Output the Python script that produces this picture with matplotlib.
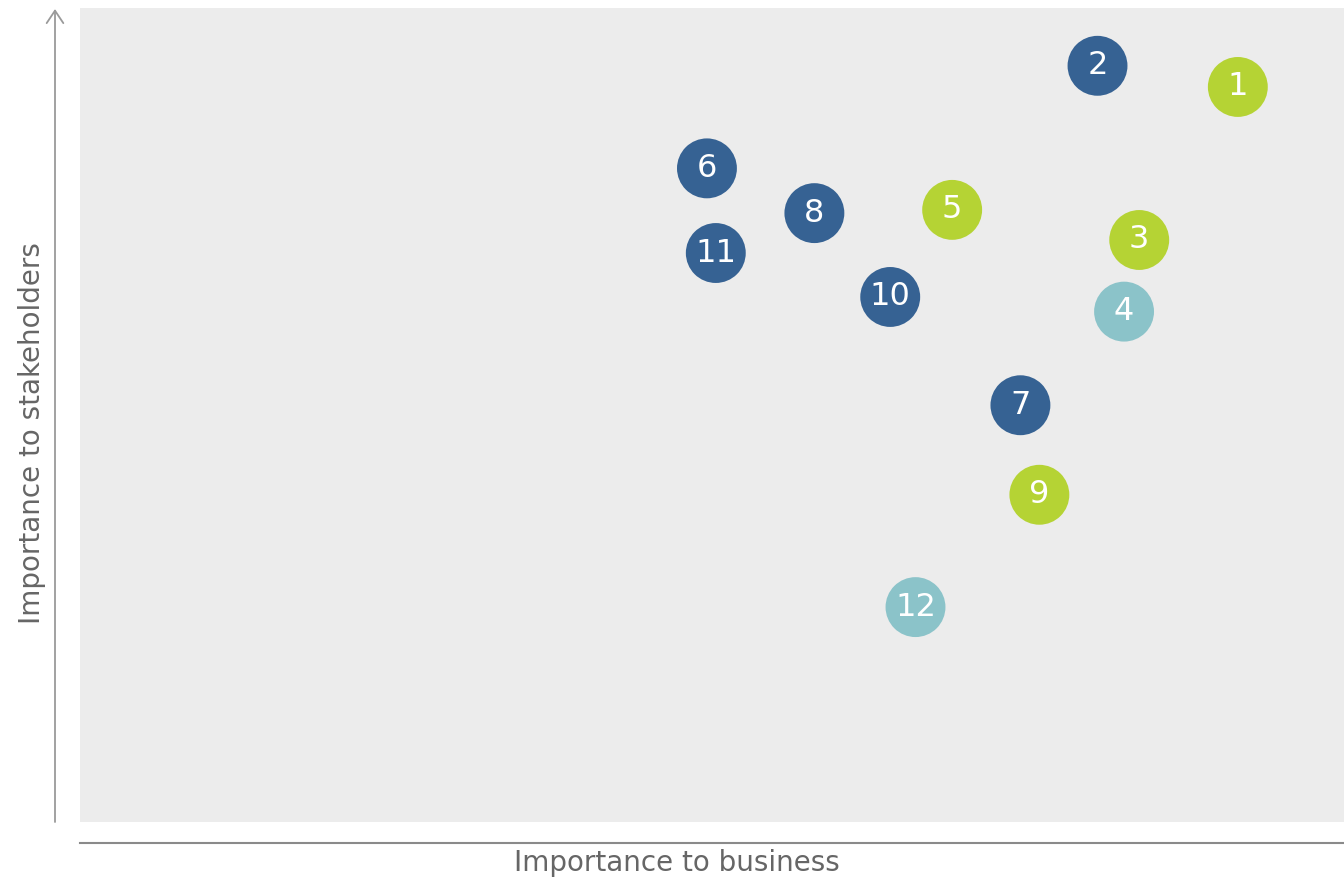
import matplotlib
matplotlib.use("Agg")
import matplotlib.pyplot as plt

labels = ["1", "2", "3", "4", "5", "6", "7", "8", "9", "10", "11", "12"]
business = [9.16, 8.05, 8.38, 8.26, 6.90, 4.96, 7.44, 5.81, 7.59, 6.41, 5.03, 6.61]
stakeholders = [9.03, 9.29, 7.15, 6.27, 7.52, 8.03, 5.12, 7.48, 4.02, 6.45, 6.99, 2.64]
groups = ["green", "blue", "green", "teal", "green", "blue", "blue", "blue", "green", "blue", "blue", "teal"]
palette = {"green": "#b5d334", "blue": "#366293", "teal": "#8bc3c9"}

W, H = 1344, 880
fig = plt.figure(figsize=(W / 100, H / 100), dpi=100)
ax = fig.add_axes([80 / W, (H - 822) / H, 1264 / W, 814 / H])
ax.set_facecolor("#ececec")
ax.set_xlim(0, 10)
ax.set_ylim(0, 10)
for s in ax.spines.values():
    s.set_visible(False)
ax.set_xticks([])
ax.set_yticks([])

ax.scatter(business, stakeholders, s=1860, c=[palette[g] for g in groups],
           edgecolors="none", zorder=2)
for lab, x, y in zip(labels, business, stakeholders):
    ax.text(x, y, lab, color="white", fontsize=23, ha="center", va="center",
            family="DejaVu Sans", zorder=3)

# y-axis arrow
fig.add_artist(matplotlib.patches.FancyArrowPatch(
    (55 / W, (H - 822) / H), (55 / W, (H - 9) / H), transform=fig.transFigure,
    arrowstyle="->,head_length=6,head_width=4", color="#9a9a9a", lw=1.3,
    mutation_scale=1.5, shrinkA=0, shrinkB=0))
# x-axis line
fig.add_artist(matplotlib.lines.Line2D([80 / W, 1], [(H - 843) / H] * 2,
                                       transform=fig.transFigure, color="#8a8a8a", lw=1.5))

fig.text(677 / W, (H - 863) / H, "Importance to business", ha="center", va="center",
         fontsize=20, color="#666666")
fig.text(32 / W, (H - 433) / H, "Importance to stakeholders", ha="center", va="center",
         rotation=90, fontsize=20, color="#666666")

fig.savefig("out.png", dpi=100)
